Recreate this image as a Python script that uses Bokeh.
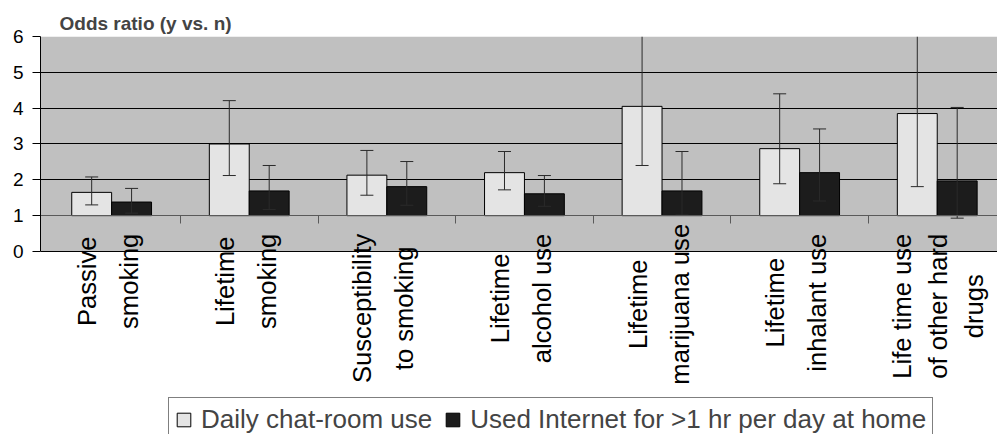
import math
from bokeh.plotting import figure
from bokeh.models import Range1d, FixedTicker, Label, Legend, LegendItem, BoxAnnotation
from bokeh.embed import file_html
from bokeh.resources import INLINE

# ---- data ----
categories = [
    ["Passive", "smoking"],
    ["Lifetime", "smoking"],
    ["Susceptibility", "to smoking"],
    ["Lifetime", "alcohol use"],
    ["Lifetime", "marijuana use"],
    ["Lifetime", "inhalant use"],
    ["Life time use", "of other hard", "drugs"],
]
series_names = ["Daily chat-room use", "Used Internet for >1 hr per day at home"]

chat = [1.65, 3.00, 2.13, 2.20, 4.05, 2.87, 3.85]
chat_lo = [1.30, 2.12, 1.57, 1.72, 2.40, 1.89, 1.81]
chat_hi = [2.08, 4.21, 2.82, 2.79, 7.00, 4.40, 8.00]

inet = [1.38, 1.69, 1.81, 1.61, 1.69, 2.20, 1.97]
inet_lo = [1.07, 1.17, 1.29, 1.26, 1.02, 1.41, 0.93]
inet_hi = [1.76, 2.40, 2.51, 2.12, 2.79, 3.42, 4.02]

y_ticks = [0, 1, 2, 3, 4, 5, 6]
baseline = 1

# ---- styles / layout ----
FONT = "Liberation Sans"
LIGHT = "#e4e4e4"
DARK = "#1c1c1c"
BG = "#c0c0c0"
ERR = "#2a2a2a"
LABEL_PX = 25.6
WIDTH, HEIGHT = 997, 434
LEFT, TOP = 40, 36
PX_PER_CAT = 137.6
PX_PER_UNIT = 35.83

# Arial/Liberation Sans advance widths (per 1000 em) for measuring labels
W = {' ': 278, 'a': 556, 'b': 556, 'c': 500, 'd': 556, 'e': 556, 'f': 278, 'g': 556,
     'h': 556, 'i': 222, 'j': 222, 'k': 500, 'l': 222, 'm': 833, 'n': 556, 'o': 556,
     'p': 556, 'r': 333, 's': 500, 't': 278, 'u': 556, 'v': 500, 'y': 500,
     'P': 667, 'L': 556, 'S': 667}


def text_len(s, px):
    return sum(W.get(ch, 556) for ch in s) / 1000.0 * px


n = len(categories)
centers = [i + 0.5 for i in range(n)]
bw = 0.29
x_light = [c - bw / 2 for c in centers]
x_dark = [c + bw / 2 for c in centers]

x0 = -0.017
x1 = x0 + (WIDTH - LEFT) / PX_PER_CAT
y1 = max(y_ticks)
y0 = y1 - (HEIGHT - TOP) / PX_PER_UNIT

p = figure(width=WIDTH, height=HEIGHT, output_backend="svg", toolbar_location=None,
           x_range=Range1d(x0, x1), y_range=Range1d(y0, y1),
           min_border_left=LEFT, min_border_right=0, min_border_top=TOP,
           min_border_bottom=0)
p.background_fill_color = "white"
p.border_fill_color = "white"
p.outline_line_color = None

# grey plot area only between 0 and 6
bg = BoxAnnotation(bottom=min(y_ticks), top=max(y_ticks), fill_color=BG, fill_alpha=1,
                   line_color=None, level="underlay")
p.add_layout(bg)
p.center = [bg] + [r for r in p.center if r is not bg]

p.title.text = "Odds ratio (y vs. n)"
p.title.text_font = FONT
p.title.text_font_size = "19px"
p.title.text_font_style = "bold"
p.title.align = "left"
p.title.offset = 19
p.title.standoff = 6

# y axis
ya = p.yaxis[0]
ya.ticker = FixedTicker(ticks=y_ticks)
ya.bounds = (min(y_ticks), max(y_ticks))
ya.minor_tick_line_color = None
ya.major_tick_out = 8
ya.major_tick_in = 0
ya.major_label_standoff = 9
ya.major_label_text_font = FONT
ya.major_label_text_font_size = "19px"
ya.major_label_text_color = "black"
ya.axis_line_color = "black"
ya.major_tick_line_color = "black"

# category axis sitting at the baseline (odds ratio = 1)
xa = p.xaxis[0]
xa.fixed_location = baseline
xa.ticker = FixedTicker(ticks=list(range(1, n)))
xa.major_label_text_color = None
xa.major_label_text_font_size = "1px"
xa.major_label_standoff = 0
xa.minor_tick_line_color = None
xa.major_tick_out = 8
xa.major_tick_in = 0
xa.axis_line_color = "#5a5a5a"
xa.major_tick_line_color = "#5a5a5a"

p.xgrid.grid_line_color = None
p.ygrid.ticker = FixedTicker(ticks=[t for t in y_ticks if t != baseline])
p.ygrid.grid_line_color = "black"

r1 = p.vbar(x=x_light, bottom=baseline, top=chat, width=bw,
            fill_color=LIGHT, line_color="black", line_width=1)
r2 = p.vbar(x=x_dark, bottom=baseline, top=inet, width=bw,
            fill_color=DARK, line_color="black", line_width=1)

# error bars, clipped at the top of the grey area
for xs, lo, hi in ((x_light, chat_lo, chat_hi), (x_dark, inet_lo, inet_hi)):
    hi_c = [min(h, max(y_ticks)) for h in hi]
    p.segment(x0=xs, y0=lo, x1=xs, y1=hi_c, line_color=ERR, line_width=1)
    cap_x = [x for x in xs] + [x for x, h in zip(xs, hi) if h <= max(y_ticks)]
    cap_y = list(lo) + [h for h in hi if h <= max(y_ticks)]
    p.scatter(x=cap_x, y=cap_y, marker="dash", size=13,
              line_color=ERR, line_width=1)

# rotated, multi-line category labels (lines centred within each block)
line_pitch = {2: 42, 3: 36}
line_base = {2: -3.4, 3: 0.9}
top_off = 18
max_bottom = 169
for c, lines in zip(centers, categories):
    k = len(lines)
    lens = [text_len(s, LABEL_PX) for s in lines]
    maxlen = max(lens)
    t_off = top_off if top_off + maxlen <= max_bottom else max_bottom - maxlen
    for i, s in enumerate(lines):
        p.add_layout(Label(x=c, y=baseline, text=s, angle=math.pi / 2,
                           text_align="center", text_baseline="alphabetic",
                           x_offset=line_base[k] + (i - (k - 1) / 2) * line_pitch[k],
                           y_offset=-(t_off + maxlen / 2),
                           text_font=FONT, text_font_size=f"{LABEL_PX}px",
                           text_color="black"))

legend = Legend(items=[LegendItem(label=series_names[0], renderers=[r1]),
                       LegendItem(label=series_names[1], renderers=[r2])],
                orientation="horizontal", location=(128, -8),
                padding=6, spacing=12, label_standoff=9,
                glyph_width=17, glyph_height=17, margin=0,
                label_text_font=FONT, label_text_font_size="26px",
                border_line_color="black", border_line_width=1,
                background_fill_color="white", background_fill_alpha=1)
p.add_layout(legend)

open("out.html", "w").write(file_html(p, INLINE))
